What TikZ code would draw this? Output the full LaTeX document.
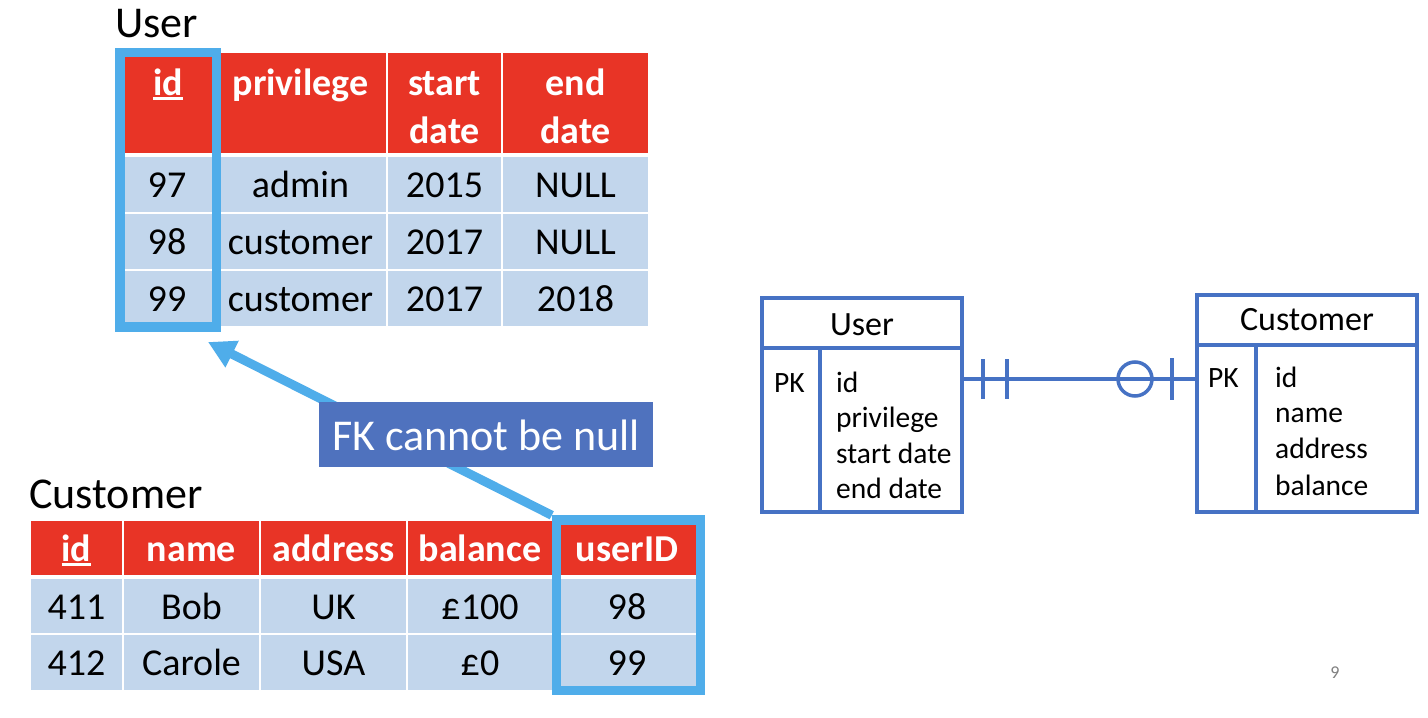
\documentclass[tikz,border=0pt]{standalone}
\usepackage{fontspec}
\setmainfont{Carlito}
\usetikzlibrary{arrows.meta}
\definecolor{hred}{HTML}{E83426}
\definecolor{cblue}{HTML}{C2D6EC}
\definecolor{hl}{HTML}{4FADEA}
\definecolor{erblue}{HTML}{4672C4}
\definecolor{lab}{HTML}{4F72BE}
\newcommand\tfont{\fontsize{38}{46}\selectfont}
\newcommand\bigfont{\fontsize{44}{50}\selectfont}
\newcommand\erfont{\fontsize{29.5}{36}\selectfont}
\newcommand\ertitlefont{\fontsize{34}{40}\selectfont}
\newcommand\ulbox[1]{\setbox0\hbox{#1}\rlap{\rule[-4.5pt]{\wd0}{2.8pt}}\box0}
\newcommand\tcell[7]{\node[#6, minimum width={(#4-#2)*1pt}, minimum height={(#5-#3)*1pt}] (#1) at ({(#2+#4)/2},{(#3+#5)/2}) {#7};}
\begin{document}
\begin{tikzpicture}[x=1pt,y=-1pt,
  hcell/.style={fill=hred, inner sep=0, text=white, font=\tfont\bfseries, text height=30pt, text depth=4pt},
  bcell/.style={fill=cblue, inner sep=0, font=\tfont, text height=30pt, text depth=4pt},
  htext/.style={anchor=base, inner sep=0, text=white, font=\tfont\bfseries},
  hlbox/.style={draw=hl, line width=9.5pt, inner sep=0},
  title/.style={anchor=base west, inner sep=0, font=\bigfont},
  erbox/.style={draw=erblue, line width=3.5pt, inner sep=0},
  erline/.style={draw=erblue, line width=3.5pt},
  ertext/.style={inner sep=0, font=\erfont},
  ertitle/.style={inner sep=0, font=\ertitlefont, anchor=base}]
\fill[white] (0,0) rectangle (1428,718);
\useasboundingbox (0,0) rectangle (1428,718);

% ---------- User table ----------
\node[title] (usertitle) at (115,37) {User};
\tcell{uh1}{121}{53}{213}{153}{hcell}{}
\tcell{uh2}{215}{53}{386}{153}{hcell}{}
\tcell{uh3}{388}{53}{501}{153}{hcell}{}
\tcell{uh4}{503}{53}{648}{153}{hcell}{}
\node[htext] (uh1t) at (168,95) {\ulbox{id}};
\node[htext] (uh2t) at (300.5,95) {privilege};
\node[htext] (uh3t) at (444.5,95) {start};
\node[htext] (uh3u) at (444.5,143) {date};
\node[htext] (uh4t) at (575.5,95) {end};
\node[htext] (uh4u) at (575.5,143) {date};

\tcell{u11}{121}{157}{213}{212}{bcell}{97}
\tcell{u12}{215}{157}{386}{212}{bcell}{admin}
\tcell{u13}{388}{157}{501}{212}{bcell}{2015}
\tcell{u14}{503}{157}{648}{212}{bcell}{NULL}
\tcell{u21}{121}{214}{213}{269}{bcell}{98}
\tcell{u22}{215}{214}{386}{269}{bcell}{customer}
\tcell{u23}{388}{214}{501}{269}{bcell}{2017}
\tcell{u24}{503}{214}{648}{269}{bcell}{NULL}
\tcell{u31}{121}{271}{213}{326}{bcell}{99}
\tcell{u32}{215}{271}{386}{326}{bcell}{customer}
\tcell{u33}{388}{271}{501}{326}{bcell}{2017}
\tcell{u34}{503}{271}{648}{326}{bcell}{2018}

\node[hlbox, minimum width=96.5pt, minimum height=274.5pt] (uidbox) at (168.25,189.75) {};

% ---------- Customer table ----------
\node[title] (custtitle) at (29,508) {Customer};
\tcell{ch1}{31}{521}{122}{575}{hcell}{\ulbox{id}}
\tcell{ch2}{124}{521}{259}{575}{hcell}{name}
\tcell{ch3}{261}{521}{406}{575}{hcell}{address}
\tcell{ch4}{408}{521}{552}{575}{hcell}{balance}
\tcell{ch5}{554}{521}{700}{575}{hcell}{userID}
\tcell{c11}{31}{579}{122}{633}{bcell}{411}
\tcell{c12}{124}{579}{259}{633}{bcell}{Bob}
\tcell{c13}{261}{579}{406}{633}{bcell}{UK}
\tcell{c14}{408}{579}{552}{633}{bcell}{£100}
\tcell{c15}{554}{579}{700}{633}{bcell}{98}
\tcell{c21}{31}{635}{122}{690}{bcell}{412}
\tcell{c22}{124}{635}{259}{690}{bcell}{Carole}
\tcell{c23}{261}{635}{406}{690}{bcell}{USA}
\tcell{c24}{408}{635}{552}{690}{bcell}{£0}
\tcell{c25}{554}{635}{700}{690}{bcell}{99}

\node[hlbox, minimum width=144pt, minimum height=170.5pt] (cidbox) at (628.5,605.25) {};

% ---------- FK arrow ----------
\coordinate (fktip) at (208,342);
\draw[hl, line width=9pt, -{Triangle[length=27pt,width=28pt]}] (cidbox.north west) -- (fktip);
\node[fill=lab, text=white, inner sep=0, minimum width=334pt, minimum height=65pt, font=\bigfont, text height=31pt, text depth=0pt] (fk) at (486,434.5) {FK cannot be null};

% ---------- ER diagram ----------
\node[erbox, minimum width=200pt, minimum height=214pt] (euser) at (862,405) {};
\draw[erline] (762,348) -- (962,348);
\draw[erline] (820,348) -- (820,512);
\node[ertitle] (eut) at (862,335) {User};
\node[ertext, anchor=base west] (eupk) at (774,392) {PK};
\node[ertext, anchor=base west] (eua1) at (836,392) {id};
\node[ertext, anchor=base west] (eua2) at (836,427) {privilege};
\node[ertext, anchor=base west] (eua3) at (836,463) {start date};
\node[ertext, anchor=base west] (eua4) at (836,498) {end date};

\node[erbox, minimum width=220pt, minimum height=217pt] (ecust) at (1307,403.5) {};
\draw[erline] (1197,345) -- (1417,345);
\draw[erline] (1256,345) -- (1256,512);
\node[ertitle] (ect) at (1307,330) {Customer};
\node[ertext, anchor=base west] (ecpk) at (1208,387) {PK};
\node[ertext, anchor=base west] (eca1) at (1275,387) {id};
\node[ertext, anchor=base west] (eca2) at (1275,422) {name};
\node[ertext, anchor=base west] (eca3) at (1275,458) {address};
\node[ertext, anchor=base west] (eca4) at (1275,495) {balance};

\coordinate (relY) at (0,379);
\draw[erline] (euser.east |- relY) -- (ecust.west |- relY);
\draw[erline] (983,359) -- (983,399);
\draw[erline] (1007,359) -- (1007,399);
\draw[erline] (1135,379) circle (17);
\draw[erline] (1172,358) -- (1172,400);

\node[text=gray, inner sep=0, font=\fontsize{18}{21}\selectfont] (pg) at (1335,673) {9};
\end{tikzpicture}
\end{document}
